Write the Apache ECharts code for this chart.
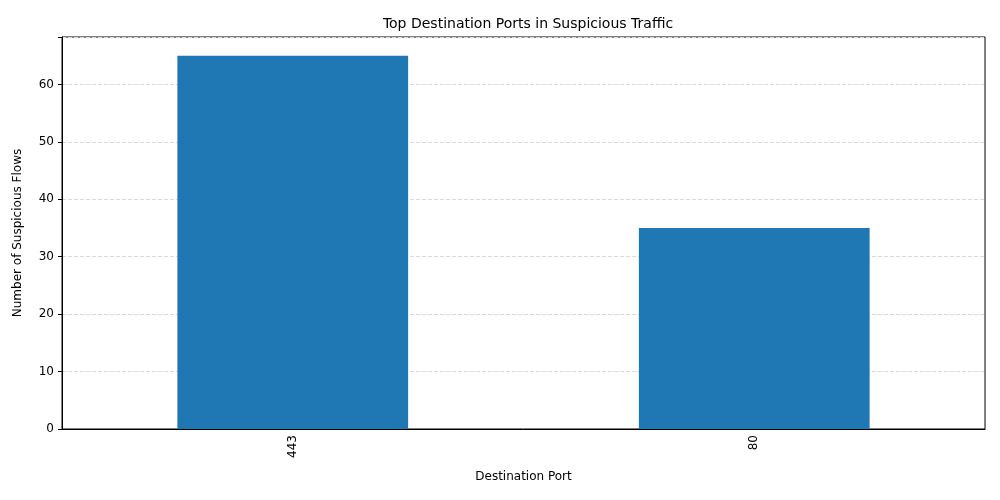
<!DOCTYPE html>
<html>
<head>
<meta charset="utf-8">
<script src="https://cdn.jsdelivr.net/npm/echarts@6/dist/echarts.min.js"></script>
</head>
<body style="margin:0">
<div id="main" style="width:1000px;height:500px;"></div>
<script>
var ports = ['443', '80'];
var flows = [65, 35];

var chart = echarts.init(document.getElementById('main'));
chart.setOption({
  animation: false,
  textStyle: {fontFamily: 'DejaVu Sans'},
  title: {
    text: 'Top Destination Ports in Suspicious Traffic',
    left: 523, top: 12, textAlign: 'center',
    textStyle: {fontSize: 14, fontWeight: 'normal', color: '#000'}
  },
  grid: {left: 62, right: 15, top: 37, bottom: 71, show: true, borderColor: '#000', borderWidth: 1},
  xAxis: {
    type: 'category', data: ports,
    name: 'Destination Port', nameLocation: 'middle', nameGap: 42,
    nameTextStyle: {fontSize: 12, color: '#000'},
    axisLine: {lineStyle: {color: '#000'}},
    axisTick: {alignWithLabel: true, length: 4, lineStyle: {color: '#000'}},
    axisLabel: {rotate: 90, color: '#000', fontSize: 12, margin: 6}
  },
  yAxis: {
    type: 'value', min: 0, max: 68.25, interval: 10,
    name: 'Number of Suspicious Flows', nameLocation: 'middle', nameGap: 38,
    nameTextStyle: {fontSize: 12, color: '#000'},
    axisLine: {show: true, lineStyle: {color: '#000'}},
    axisTick: {show: true, length: 4, lineStyle: {color: '#000'}},
    axisLabel: {color: '#000', fontSize: 12, formatter: function (v) { return v % 10 === 0 ? v : ''; }},
    splitLine: {lineStyle: {type: 'dashed', color: '#d9d9d9'}}
  },
  series: [{type: 'bar', data: flows, barWidth: '50%', itemStyle: {color: '#1f77b4'}}]
});
</script>
</body>
</html>
